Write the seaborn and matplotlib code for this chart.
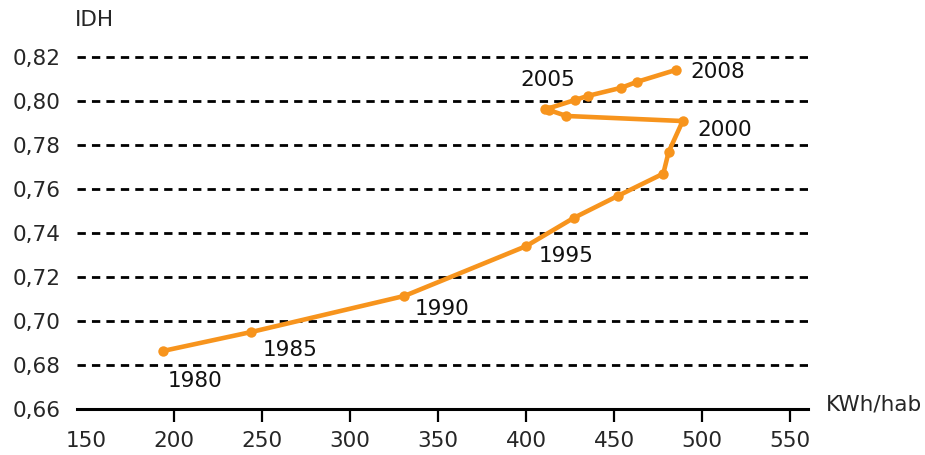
import numpy as np
import pandas as pd
import matplotlib
matplotlib.use("Agg")
import matplotlib.pyplot as plt
import seaborn as sns
from matplotlib.ticker import FuncFormatter

# data
years = [1980, 1985, 1990, 1995, 1996, 1997, 1998, 1999, 2000,
         2001, 2002, 2003, 2004, 2005, 2006, 2007, 2008]
kwh = [194, 244, 331, 400, 427, 452, 478, 481, 489,
       423, 413, 411, 428, 435, 454, 463, 485]
idh = [0.6864, 0.6950, 0.7114, 0.7340, 0.7468, 0.7568, 0.7670, 0.7768, 0.7909,
       0.7932, 0.7959, 0.7962, 0.8005, 0.8023, 0.8060, 0.8087, 0.8141]

label_years = [1980, 1985, 1990, 1995, 2000, 2005, 2008]
label_offsets = [(4, -30), (11, -18), (10, -13), (13, -10), (15, -9), (-67, 16), (15, -2)]

x_ticks = [150, 200, 250, 300, 350, 400, 450, 500, 550]
y_ticks = [0.66, 0.68, 0.70, 0.72, 0.74, 0.76, 0.78, 0.80, 0.82]

df = pd.DataFrame({"year": years, "kwh": kwh, "idh": idh})

sns.set_style("white")
plt.rcParams["font.family"] = ["DejaVu Sans"]

orange = "#F7941D"

fig = plt.figure(figsize=(9.25, 4.55), dpi=100)
ax = fig.add_axes([0.0832, 0.1011, 0.790, 0.8026])

sns.lineplot(data=df, x="kwh", y="idh", sort=False, ax=ax, color=orange,
             linewidth=3.3, marker="o", markersize=7.5, markeredgewidth=0,
             zorder=3)

# year labels
for yr, (dx, dy) in zip(label_years, label_offsets):
    row = df[df["year"] == yr].iloc[0]
    ax.annotate(str(yr), (row["kwh"], row["idh"]), xytext=(dx, dy),
                textcoords="offset pixels", fontsize=15.5, color="#111111",
                ha="left", va="center")

ax.set_xlim(145, 560)
ax.set_ylim(0.66, 0.826)
ax.set_xticks(x_ticks)
ax.set_yticks(y_ticks)
ax.yaxis.set_major_formatter(FuncFormatter(lambda v, p: f"{v:.2f}".replace(".", ",")))

ax.grid(axis="y", color="black", linestyle=(0, (3, 2.2)), linewidth=2)
ax.grid(axis="x", visible=False)

for side in ["top", "right", "left"]:
    ax.spines[side].set_visible(False)
ax.spines["bottom"].set_color("black")
ax.spines["bottom"].set_linewidth(2.2)
ax.spines["bottom"].set_zorder(4)

ax.tick_params(axis="x", length=9, width=1.6, color="black", direction="out",
               labelsize=15.5, pad=7, bottom=True)
ax.tick_params(axis="y", length=0, labelsize=15.5, pad=12)
ax.xaxis.get_major_ticks()[0].tick1line.set_visible(False)

ax.set_xlabel("")
ax.set_ylabel("")

fig.text(0.081, 0.955, "IDH", fontsize=15.5, ha="left", va="center")
fig.text(0.893, 0.11, "KWh/hab", fontsize=15.5, ha="left", va="center")

fig.savefig("out.png", dpi=100)
